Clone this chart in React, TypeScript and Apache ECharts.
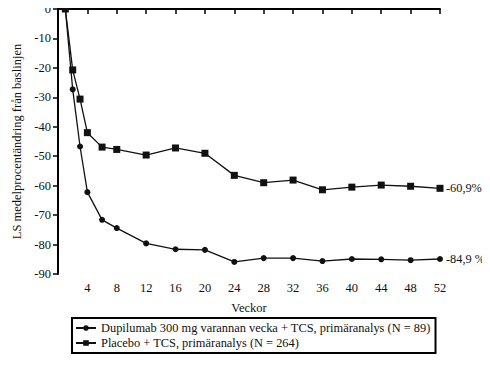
import React, { useEffect, useRef } from "react";
import * as echarts from "echarts";

const weeks = [1, 2, 3, 4, 6, 8, 12, 16, 20, 24, 28, 32, 36, 40, 44, 48, 52];
const dupilumab = [0, -27.3, -46.7, -62.2, -71.6, -74.4, -79.6, -81.6, -81.8, -85.9, -84.6, -84.6, -85.6, -84.9, -85.0, -85.3, -84.9];
const placebo = [0, -20.7, -30.6, -42.0, -46.9, -47.7, -49.6, -47.2, -49.0, -56.5, -59.0, -58.1, -61.4, -60.5, -59.8, -60.2, -60.9];
const seriesNames = [
  "Dupilumab 300 mg varannan vecka + TCS, primäranalys (N = 89)",
  "Placebo + TCS, primäranalys (N = 264)",
];
const endLabels = ["-84,9 %", "-60,9%"];
const yTitle = "LS medelprocentändring från baslinjen";
const xTitle = "Veckor";

const FONT = "Liberation Serif";

export default function App() {
  const ref = useRef<HTMLDivElement>(null);
  useEffect(() => {
    if (!ref.current) return;
    const chart = echarts.init(ref.current, null, { renderer: "svg" });
    const mk = (vals: number[]) => weeks.map((w, i) => [w, vals[i]]);
    chart.setOption({
      animation: false,
      backgroundColor: "#fff",
      textStyle: { fontFamily: FONT, color: "#111" },
      grid: { left: 58, right: 50, top: 9, bottom: 93 },
      legend: {
        orient: "vertical",
        left: 72,
        top: 318,
        padding: [4, 5, 4, 3],
        itemGap: 3,
        itemWidth: 20,
        itemHeight: 7,
        borderColor: "#000",
        borderWidth: 2,
        textStyle: { fontFamily: FONT, fontSize: 12.4, color: "#111" },
        data: seriesNames,
      },
      xAxis: {
        type: "value",
        min: 0,
        max: 52,
        interval: 4,
        name: xTitle,
        nameLocation: "middle",
        nameGap: 27,
        nameTextStyle: { fontFamily: FONT, fontSize: 12.5, color: "#111" },
        axisLine: { lineStyle: { color: "#000", width: 2 } },
        axisTick: { length: 5, lineStyle: { color: "#000", width: 1.5 } },
        axisLabel: {
          fontFamily: FONT,
          fontSize: 12.5,
          color: "#111",
          margin: 7,
          formatter: (v: number) => (v === 0 ? "" : String(v)),
        },
        splitLine: { show: false },
      },
      yAxis: {
        type: "value",
        min: -90,
        max: 0,
        interval: 10,
        name: yTitle,
        nameLocation: "middle",
        nameGap: 34,
        nameTextStyle: { fontFamily: FONT, fontSize: 12.5, color: "#111" },
        axisLine: { show: true, lineStyle: { color: "#000", width: 2 } },
        axisTick: { show: true, length: 5, lineStyle: { color: "#000", width: 1.5 } },
        axisLabel: { fontFamily: FONT, fontSize: 12.5, color: "#111", margin: 7 },
        splitLine: { show: false },
      },
      series: [
        {
          name: seriesNames[0],
          type: "line",
          data: mk(dupilumab),
          symbol: "circle",
          symbolSize: 6,
          lineStyle: { color: "#111", width: 1.3 },
          itemStyle: { color: "#111" },
          endLabel: {
            show: true,
            formatter: endLabels[0],
            distance: 6,
            fontFamily: FONT,
            fontSize: 12.3,
            color: "#111",
          },
        },
        {
          name: seriesNames[1],
          type: "line",
          data: mk(placebo),
          symbol: "rect",
          symbolSize: 7,
          lineStyle: { color: "#111", width: 1.3 },
          itemStyle: { color: "#111" },
          endLabel: {
            show: true,
            formatter: endLabels[1],
            distance: 6,
            fontFamily: FONT,
            fontSize: 12.3,
            color: "#111",
          },
        },
      ],
    });
    return () => chart.dispose();
  }, []);
  return <div ref={ref} style={{ width: 490, height: 367, margin: -8 }} />;
}
